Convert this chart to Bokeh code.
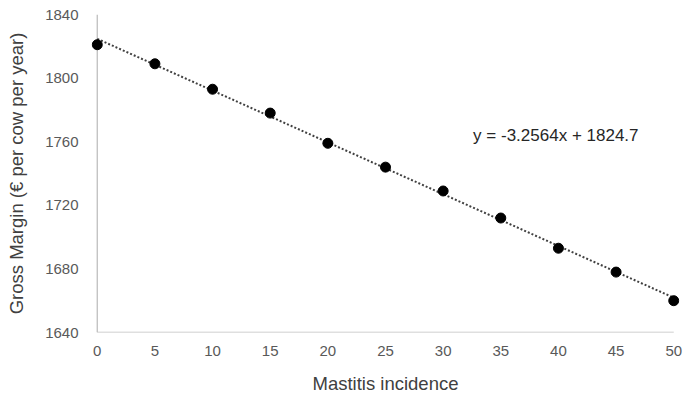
from bokeh.plotting import figure
from bokeh.models import FixedTicker, Label, ColumnDataSource
from bokeh.embed import file_html
from bokeh.resources import INLINE

incidence = [0, 5, 10, 15, 20, 25, 30, 35, 40, 45, 50]
gross_margin = [1821, 1809, 1793, 1778, 1759, 1744, 1729, 1712, 1693, 1678, 1660]
slope = -3.2564
intercept = 1824.7
x_ticks = [0, 5, 10, 15, 20, 25, 30, 35, 40, 45, 50]
y_ticks = [1640, 1680, 1720, 1760, 1800, 1840]

FONT = "Liberation Sans"
xmin, xmax = min(x_ticks), max(x_ticks)
ymin, ymax = min(y_ticks), max(y_ticks)

p = figure(width=685, height=398, output_backend="svg", toolbar_location=None,
           x_range=(xmin - 0.5, xmax + 0.5), y_range=(ymin, ymax),
           min_border_left=91, min_border_right=6, min_border_top=14, min_border_bottom=66)
p.outline_line_color = None
p.xgrid.grid_line_color = None
p.ygrid.grid_line_color = None

for ax in (p.xaxis, p.yaxis):
    ax.axis_line_color = None
    ax.major_tick_line_color = None
    ax.minor_tick_line_color = None
    ax.major_label_text_font = FONT
    ax.major_label_text_font_size = "15px"
    ax.major_label_text_color = "#595959"
    ax.axis_label_text_font = FONT
    ax.axis_label_text_font_size = "18.5px"
    ax.axis_label_text_font_style = "normal"
    ax.axis_label_text_color = "#404040"

p.xaxis.ticker = FixedTicker(ticks=x_ticks)
p.yaxis.ticker = FixedTicker(ticks=y_ticks)
p.xaxis.major_label_standoff = 7
p.yaxis.major_label_standoff = 7
p.xaxis.axis_label = "Mastitis incidence"
p.yaxis.axis_label = "Gross Margin (€ per cow per year)"
p.xaxis.axis_label_standoff = 14
p.yaxis.axis_label_standoff = 15

# axis lines (drawn as glyphs so the edge markers are not clipped)
p.line([xmin, xmax], [ymin, ymin], line_color="#bfbfbf", line_width=1.3)
p.line([xmin, xmin], [ymin, ymax], line_color="#bfbfbf", line_width=1.3)

trend_x = [min(incidence), max(incidence)]
trend_y = [intercept + slope * x for x in trend_x]
p.line(trend_x, trend_y, line_color="#404040", line_width=2, line_dash="2 2")

src = ColumnDataSource(dict(x=incidence, y=gross_margin))
p.scatter("x", "y", source=src, size=10, fill_color="black", line_color="black")

p.add_layout(Label(x=32.6, y=1764, text=f"y = {slope}x + {intercept}",
                   text_font=FONT, text_font_size="17px", text_color="#262626",
                   text_baseline="middle", text_align="left"))

open("out.html", "w").write(file_html(p, INLINE))
